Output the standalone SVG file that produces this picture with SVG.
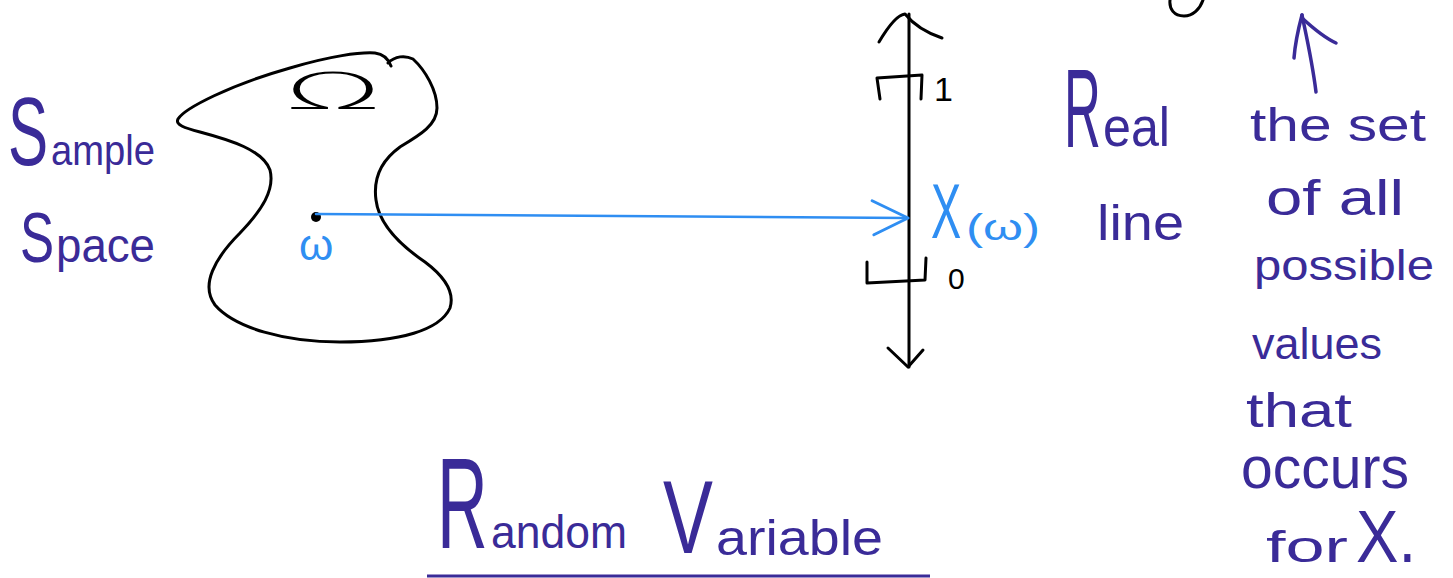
<svg xmlns="http://www.w3.org/2000/svg" width="1453" height="578" viewBox="0 0 1453 578">
<style>
.hw{fill:#3a2b98;font-family:"Liberation Sans",Arial,sans-serif}
.bk{fill:#000;font-family:"Liberation Sans",Arial,sans-serif}
.bl{fill:#2f8ef2;font-family:"Liberation Sans",Arial,sans-serif}
.ink{fill:none;stroke:#000;stroke-width:3;stroke-linecap:round;stroke-linejoin:round}
.pink{fill:none;stroke:#3a2b98;stroke-width:3.5;stroke-linecap:round;stroke-linejoin:round}
.blue{fill:none;stroke:#2f8ef2;stroke-width:2.5;stroke-linecap:round}
</style>
<defs>
<marker id="chev" markerUnits="userSpaceOnUse" markerWidth="50" markerHeight="50" refX="40" refY="20" orient="auto" viewBox="0 0 50 40">
<path d="M4,3 L40,20 L6,37" fill="none" stroke="#2f8ef2" stroke-width="3" stroke-linecap="round" stroke-linejoin="round"/>
</marker>
</defs>
<rect width="1453" height="578" fill="#fff"/>

<g id="top-fragment">
<path class="ink" d="M1203,0 C1200,9 1193,16 1184,16 C1174,16 1169,9 1170,0"/>
</g>

<g id="sample-space-label">
<text class="hw" font-size="97" transform="translate(8,165) scale(0.62,1)">S</text>
<text class="hw" x="51" y="165" font-size="42" textLength="104" lengthAdjust="spacingAndGlyphs">ample</text>
<text class="hw" font-size="70" transform="translate(20,262) scale(0.73,1)">S</text>
<text class="hw" x="56" y="262" font-size="48" textLength="99" lengthAdjust="spacingAndGlyphs">pace</text>
</g>

<g id="sample-space">
<path class="ink" d="M388,63 C395,56 405,55 413,59 C425,70 437,90 437,108 C437,125 420,135 400,147 C382,160 373,178 376,200 C379,225 400,245 425,262 C445,277 455,292 450,308 C440,330 400,342 340,342 C285,342 235,328 215,305 C200,285 215,258 240,233 C262,210 275,190 270,170 C263,150 230,140 200,132 C185,128 175,125 178,119 C185,108 230,85 290,68 C330,56 360,52 375,53 C383,54 388,58 391,66"/>
<text x="284" y="108" font-size="50" font-weight="200" textLength="98" lengthAdjust="spacingAndGlyphs" style="fill:#000;font-family:'DejaVu Sans','Liberation Sans',sans-serif">Ω</text>
</g>

<g id="omega-point">
<circle cx="316" cy="217" r="5" fill="#000"/>
<text class="bl" x="299" y="260" font-size="44">ω</text>
</g>

<g id="real-line">
<line class="ink" x1="909" y1="14" x2="909" y2="367" stroke-width="2.5"/>
<path class="ink" d="M879,42 Q895,15 905,14 Q918,30 942,38"/>
<path class="ink" d="M888,348 L908,367 L923,350"/>
<path class="ink" d="M880,99 L877,78 L922,75 L921,99"/>
<path class="ink" d="M867,262 L867,283 L925,280 L926,258"/>
<text class="bk" x="934" y="101" font-size="34">1</text>
<text class="bk" x="948" y="289" font-size="30">0</text>
<text class="bl" font-size="78" transform="translate(931,238) scale(0.58,1)">X</text>
<text class="bl" x="966" y="240" font-size="36" textLength="74" lengthAdjust="spacingAndGlyphs">(ω)</text>
</g>

<g id="real-line-label">
<text class="hw" font-size="111" transform="translate(1064,147) scale(0.46,1)">R</text>
<text class="hw" x="1103" y="146" font-size="55" textLength="67" lengthAdjust="spacingAndGlyphs">eal</text>
<text class="hw" x="1097" y="240" font-size="50" textLength="87" lengthAdjust="spacingAndGlyphs">line</text>
</g>

<g id="note">
<path class="pink" d="M1316,92 C1312,60 1305,30 1302,15"/>
<path class="pink" d="M1302,15 C1298,30 1295,45 1294,58"/>
<path class="pink" d="M1302,18 C1315,30 1325,38 1336,43"/>
<text class="hw" x="1250" y="141" font-size="46" textLength="176" lengthAdjust="spacingAndGlyphs">the set</text>
<text class="hw" x="1266" y="215" font-size="50" textLength="138" lengthAdjust="spacingAndGlyphs">of all</text>
<text class="hw" x="1254" y="280" font-size="42" textLength="180" lengthAdjust="spacingAndGlyphs">possible</text>
<text class="hw" x="1252" y="359" font-size="44" textLength="130" lengthAdjust="spacingAndGlyphs">values</text>
<text class="hw" x="1246" y="427" font-size="48" textLength="106" lengthAdjust="spacingAndGlyphs">that</text>
<text class="hw" x="1241" y="488" font-size="60" textLength="168" lengthAdjust="spacingAndGlyphs">occurs</text>
<text class="hw" x="1266" y="562" font-size="44" textLength="82" lengthAdjust="spacingAndGlyphs">for</text>
<text class="hw" font-size="74" transform="translate(1356,562) scale(0.86,1)">X.</text>
</g>

<g id="title">
<text class="hw" font-size="130" transform="translate(437,548) scale(0.54,1)">R</text>
<text class="hw" x="491" y="548" font-size="46" textLength="136" lengthAdjust="spacingAndGlyphs">andom</text>
<text class="hw" font-size="104" transform="translate(663,553) scale(0.72,1)">V</text>
<text class="hw" x="716" y="555" font-size="50" textLength="167" lengthAdjust="spacingAndGlyphs">ariable</text>
<line x1="427" y1="576" x2="930" y2="576" stroke="#3a2b98" stroke-width="3"/>
</g>

<g id="connectors">
<path class="blue" d="M316,214 L908,218" marker-end="url(#chev)"/>
</g>
</svg>
